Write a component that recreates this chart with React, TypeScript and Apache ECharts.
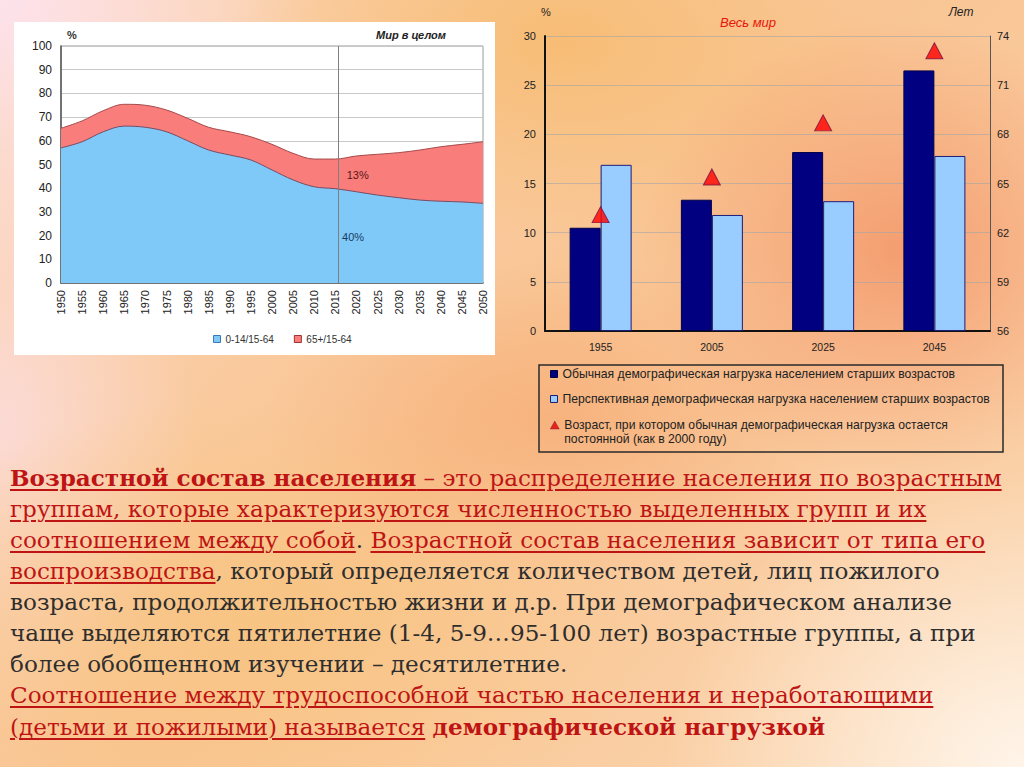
import React, { useEffect, useRef } from 'react';
import * as echarts from 'echarts';

// ---- Left chart: dependency ratios, world (%)
const years = [1950, 1955, 1960, 1965, 1970, 1975, 1980, 1985, 1990, 1995, 2000, 2005, 2010, 2015, 2020, 2025, 2030, 2035, 2040, 2045, 2050];
const youthRatio = [57, 59.6, 63.8, 66.2, 65.7, 63.8, 60, 56.1, 54, 51.9, 47.7, 43.5, 40.6, 39.8, 38.5, 37.1, 36, 35, 34.5, 34.2, 33.6];
const oldRatio = [8.3, 8.8, 8.9, 9.2, 9.3, 9.2, 9.5, 9.6, 9.8, 9.8, 10.8, 11.2, 11.7, 12.5, 15.1, 17.2, 19, 21.1, 23, 24.3, 26];
const leftSeriesNames = ['0-14/15-64', '65+/15-64'];
const currentYear = 2015.6;
const noteLabels = ['13%', '40%'];
const notePoints = [[2020.3, 45.6], [2019.2, 19.4]];

// ---- Right chart: old-age load (%) and constant-load age (years)
const periodLabels = ['1955', '2005', '2025', '2045'];
const usualLoad = [10.5, 13.35, 18.2, 26.5];
const prospectiveLoad = [16.9, 11.8, 13.2, 17.8];
const constantAge = [63.1, 65.4, 68.7, 73.1];
const nameUsual = 'Обычная демографическая нагрузка населением старших возрастов';
const nameProspective = 'Перспективная демографическая нагрузка населением старших возрастов';
const nameAge = 'Возраст, при котором обычная демографическая нагрузка остается постоянной (как в 2000 году)';
const nameAgeLines = ['Возраст, при котором обычная демографическая нагрузка остается', 'постоянной (как в 2000 году)'];

const FONT = '"Liberation Sans", Arial, sans-serif';

function Chart() {
  const ref = useRef<HTMLDivElement>(null);
  useEffect(() => {
    if (!ref.current) return;
    const chart = echarts.init(ref.current, undefined, { renderer: 'svg' });
    // upper edge of the red band = youth ratio + old-age ratio (drawn behind the blue area)
    const totalRatio = years.map((_, i) => +(youthRatio[i] + oldRatio[i]).toFixed(2));
    const rightLegendBase = {
      left: 550,
      padding: 0,
      itemWidth: 7,
      itemHeight: 7,
      icon: 'rect',
      selectedMode: false,
      textStyle: { fontSize: 12.2, color: '#222', lineHeight: 14, fontFamily: FONT },
    };
    const center = { align: 'center', verticalAlign: 'middle', textAlign: 'center', textVerticalAlign: 'middle' };
    const option: any = {
      animation: false,
      textStyle: { fontFamily: FONT },
      graphic: [
        { type: 'rect', z: -5, shape: { x: 14, y: 22, width: 481, height: 333 }, style: { fill: '#ffffff' } },
        { type: 'rect', z: 5, shape: { x: 539, y: 365, width: 464, height: 87 }, style: { fill: 'none', stroke: '#2a2a2a', lineWidth: 1.5 } },
        { type: 'text', x: 72, y: 35, style: { text: '%', font: 'bold 11px ' + FONT, fill: '#333', ...center } },
        { type: 'text', x: 411, y: 35, style: { text: 'Мир в целом', font: 'italic bold 11px ' + FONT, fill: '#222', ...center } },
        { type: 'text', x: 546, y: 12, style: { text: '%', font: '11px ' + FONT, fill: '#222', ...center } },
        { type: 'text', x: 748, y: 22, style: { text: 'Весь мир', font: 'italic 13px ' + FONT, fill: '#e8150c', ...center } },
        { type: 'text', x: 961, y: 12, style: { text: 'Лет', font: 'italic 12px ' + FONT, fill: '#222', ...center } },
      ],
      grid: [
        { left: 61, top: 46, width: 422, height: 237, show: true, borderColor: '#9a9a9a', borderWidth: 1, backgroundColor: 'transparent' },
        { left: 545, top: 36, width: 445, height: 295 },
      ],
      xAxis: [
        {
          type: 'value', gridIndex: 0, min: 1950, max: 2050, interval: 5,
          axisLine: { show: true, lineStyle: { color: '#555', width: 1.5 } },
          axisTick: { show: false }, splitLine: { show: false },
          axisLabel: { rotate: 90, fontSize: 11, color: '#222', margin: 7, formatter: (v: number) => String(v) },
        },
        {
          type: 'category', gridIndex: 1, data: periodLabels,
          axisLine: { show: true, lineStyle: { color: '#111', width: 2 } },
          axisTick: { show: false },
          axisLabel: { fontSize: 10.5, color: '#222', margin: 10 },
        },
      ],
      yAxis: [
        {
          type: 'value', gridIndex: 0, min: 0, max: 100, interval: 10,
          axisLine: { show: true, lineStyle: { color: '#555', width: 1.5 } },
          axisTick: { show: false },
          splitLine: { lineStyle: { color: '#c8c8c8' } },
          axisLabel: { fontSize: 12, color: '#222', margin: 9 },
        },
        {
          type: 'value', gridIndex: 1, position: 'left', min: 0, max: 30, interval: 5,
          axisLine: { show: true, lineStyle: { color: '#111', width: 2 } },
          axisTick: { show: false },
          splitLine: { lineStyle: { color: 'rgba(165,165,165,0.6)' } },
          axisLabel: { fontSize: 11, color: '#222', margin: 9 },
        },
        {
          type: 'value', gridIndex: 1, position: 'right', min: 56, max: 74, interval: 3,
          axisLine: { show: true, lineStyle: { color: '#555', width: 1 } },
          axisTick: { show: false }, splitLine: { show: false },
          axisLabel: { fontSize: 11, color: '#222', margin: 7 },
        },
      ],
      legend: [
        {
          left: 213, top: 334, padding: 0, itemWidth: 7, itemHeight: 7, itemGap: 20, icon: 'rect', selectedMode: false,
          textStyle: { fontSize: 10, color: '#333', fontFamily: FONT },
          data: [
            { name: leftSeriesNames[0], itemStyle: { color: '#7fc9f9', borderColor: '#3b78b8', borderWidth: 1 } },
            { name: leftSeriesNames[1], itemStyle: { color: '#f97d7b', borderColor: '#a03030', borderWidth: 1 } },
          ],
        },
        { ...rightLegendBase, top: 367, data: [{ name: nameUsual, itemStyle: { color: '#000080', borderColor: '#000040', borderWidth: 1 } }] },
        { ...rightLegendBase, top: 392, data: [{ name: nameProspective, itemStyle: { color: '#99ccff', borderColor: '#1c1c7a', borderWidth: 1 } }] },
        {
          ...rightLegendBase, top: 404, icon: 'triangle', itemWidth: 9, itemHeight: 8,
          formatter: () => '\u00a0\n' + nameAgeLines.join('\n'),
          data: [{ name: nameAge, itemStyle: { color: '#e00000', borderColor: '#7a1040', borderWidth: 0.5 } }],
        },
      ],
      series: [
        {
          name: leftSeriesNames[1], type: 'line', xAxisIndex: 0, yAxisIndex: 0, smooth: 0.35, z: 2,
          symbol: 'none', data: years.map((y, i) => [y, totalRatio[i]]),
          lineStyle: { color: '#a54a4a', width: 1 },
          areaStyle: { color: '#f97d7b', opacity: 1 },
          itemStyle: { color: '#f97d7b' },
          markPoint: {
            symbol: 'rect', symbolSize: 1, itemStyle: { color: 'rgba(0,0,0,0)' },
            label: { show: true, position: 'inside', formatter: '{b}', fontSize: 11, color: '#5a1515' },
            data: [{ name: noteLabels[0], coord: notePoints[0] }],
          },
        },
        {
          name: leftSeriesNames[0], type: 'line', xAxisIndex: 0, yAxisIndex: 0, smooth: 0.35, z: 3,
          symbol: 'none', data: years.map((y, i) => [y, youthRatio[i]]),
          lineStyle: { color: '#7a4b63', width: 1 },
          areaStyle: { color: '#7fc9f9', opacity: 1 },
          itemStyle: { color: '#7fc9f9' },
          markLine: {
            silent: true, symbol: ['none', 'none'], label: { show: false },
            lineStyle: { color: '#7f7f7f', width: 1, type: 'solid' },
            data: [{ xAxis: currentYear }],
          },
          markPoint: {
            symbol: 'rect', symbolSize: 1, itemStyle: { color: 'rgba(0,0,0,0)' },
            label: { show: true, position: 'inside', formatter: '{b}', fontSize: 11, color: '#1b3b5e' },
            data: [{ name: noteLabels[1], coord: notePoints[1] }],
          },
        },
        {
          name: nameUsual, type: 'bar', xAxisIndex: 1, yAxisIndex: 1, data: usualLoad,
          barWidth: 31, barGap: '0%',
          itemStyle: { color: '#000080', borderColor: '#00004a', borderWidth: 1 },
        },
        {
          name: nameProspective, type: 'bar', xAxisIndex: 1, yAxisIndex: 1, data: prospectiveLoad,
          barWidth: 31, barGap: '0%',
          itemStyle: { color: '#99ccff', borderColor: '#1c1c7a', borderWidth: 1 },
        },
        {
          name: nameAge, type: 'scatter', xAxisIndex: 1, yAxisIndex: 2, data: constantAge,
          symbol: 'triangle', symbolSize: [17, 16], z: 5,
          itemStyle: { color: '#ff0000', borderColor: '#7a1040', borderWidth: 1 },
        },
      ],
    };
    chart.setOption(option);
    return () => chart.dispose();
  }, []);
  return <div ref={ref} style={{ position: 'absolute', left: 0, top: 0, width: 1024, height: 460 }} />;
}

const RED = '#bf1414';
const u: React.CSSProperties = {
  color: RED,
  textDecoration: 'underline',
  textDecorationColor: RED,
  textDecorationThickness: '1.5px',
  textUnderlineOffset: '3px',
};

export default function App() {
  useEffect(() => {
    document.body.style.margin = '0';
  }, []);
  const bg = [
    'radial-gradient(ellipse 260px 230px at 900px 250px, rgba(243,150,105,0.85), rgba(243,150,105,0))',
    'radial-gradient(ellipse 330px 200px at 560px 40px, rgba(247,188,115,0.95), rgba(247,188,115,0))',
    'radial-gradient(ellipse 300px 160px at 560px 420px, rgba(246,170,115,0.7), rgba(246,170,115,0))',
    'radial-gradient(ellipse 420px 220px at 250px 620px, rgba(248,196,125,0.75), rgba(248,196,125,0))',
    'radial-gradient(ellipse 360px 300px at 1024px 767px, rgba(255,246,236,0.95), rgba(255,246,236,0))',
    'radial-gradient(ellipse 320px 300px at 0px 0px, rgba(253,226,236,1), rgba(253,226,236,0))',
    'radial-gradient(ellipse 200px 300px at 0px 430px, rgba(252,222,226,0.8), rgba(252,222,226,0))',
    'linear-gradient(135deg, #fbd5b4 0%, #f9c594 50%, #fbd6b0 100%)',
  ].join(', ');
  return (
    <div style={{ position: 'absolute', left: 0, top: 0, width: 1024, height: 767, overflow: 'hidden', background: bg }}>
      <Chart />
      <div
        style={{
          position: 'absolute', left: 10, top: 462, whiteSpace: 'nowrap',
          fontFamily: '"DejaVu Serif", serif', fontSize: 23.1, lineHeight: '31px', color: '#2e2e2e',
        }}
      >
        <div><b style={u}>Возрастной состав населения</b><span style={u}> – это распределение населения по возрастным</span></div>
        <div><span style={u}>группам, которые характеризуются численностью выделенных групп и их</span></div>
        <div><span style={u}>соотношением между собой</span>. <span style={u}>Возрастной состав населения зависит от типа его</span></div>
        <div><span style={u}>воспроизводства</span>, который определяется количеством детей, лиц пожилого</div>
        <div>возраста, продолжительностью жизни и д.р. При демографическом анализе</div>
        <div>чаще выделяются пятилетние (1-4, 5-9…95-100 лет) возрастные группы, а при</div>
        <div>более обобщенном изучении – десятилетние.</div>
        <div><span style={u}>Соотношение между трудоспособной частью населения и неработающими</span></div>
        <div><span style={u}>(детьми и пожилыми) называется</span> <b style={{ color: RED }}>демографической нагрузкой</b></div>
      </div>
    </div>
  );
}
